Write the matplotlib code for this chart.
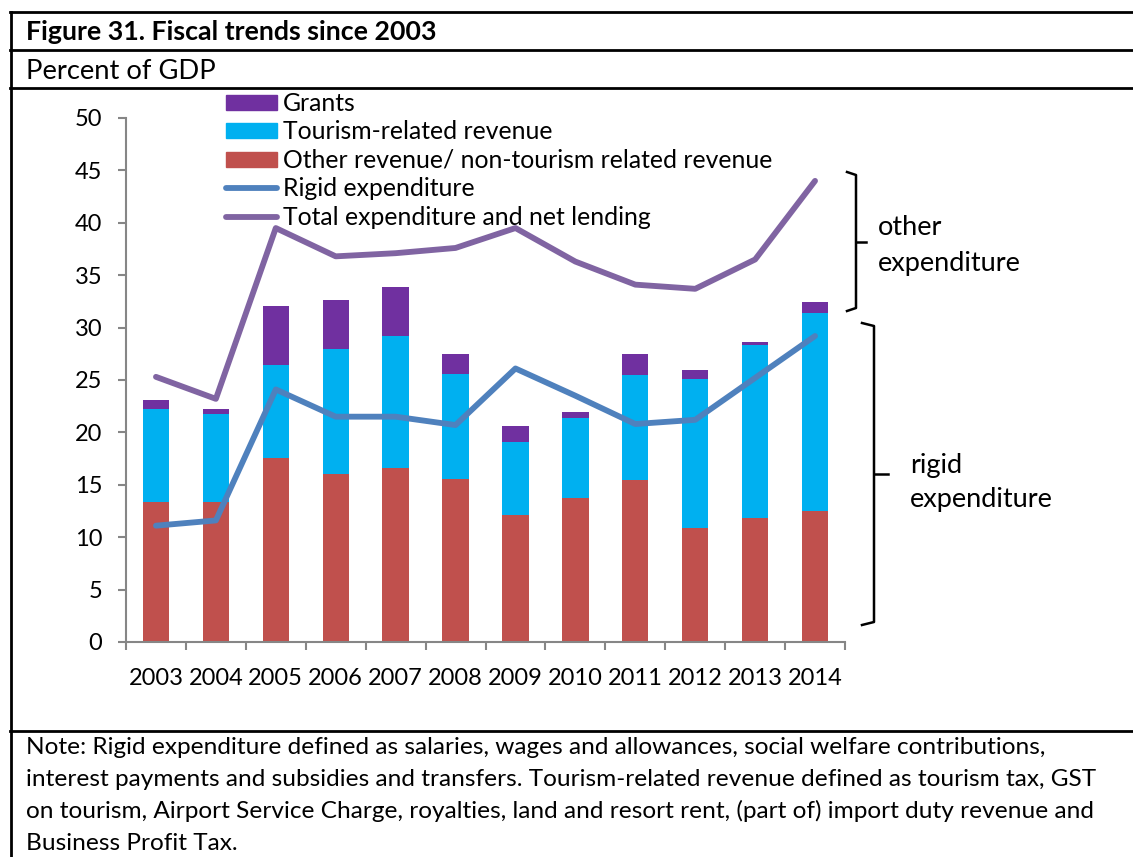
import numpy as np
import matplotlib
matplotlib.use("Agg")
import matplotlib.pyplot as plt
from matplotlib.patches import Patch
from matplotlib.lines import Line2D

plt.rcParams['font.family'] = ['Lato', 'DejaVu Sans']

years = ["2003", "2004", "2005", "2006", "2007", "2008",
         "2009", "2010", "2011", "2012", "2013", "2014"]

# stacked bar components (percent of GDP)
other_revenue = [13.4, 13.4, 17.6, 16.0, 16.6, 15.6, 12.1, 13.7, 15.5, 10.9, 11.8, 12.5]
tourism_revenue = [8.8, 8.4, 8.8, 12.0, 12.6, 10.0, 7.0, 7.7, 10.0, 14.2, 16.5, 18.9]
grants = [0.9, 0.4, 5.7, 4.6, 4.7, 1.9, 1.5, 0.5, 2.0, 0.9, 0.3, 1.0]

rigid_exp = [11.1, 11.6, 24.1, 21.5, 21.5, 20.7, 26.1, 23.5, 20.8, 21.2, 25.2, 29.2]
total_exp = [25.3, 23.2, 39.5, 36.8, 37.1, 37.6, 39.5, 36.3, 34.1, 33.7, 36.5, 44.0]

note_lines = [
    "Note: Rigid expenditure defined as salaries, wages and allowances, social welfare contributions,",
    "interest payments and subsidies and transfers. Tourism-related revenue defined as tourism tax, GST",
    "on tourism, Airport Service Charge, royalties, land and resort rent, (part of) import duty revenue and",
    "Business Profit Tax.",
]

c_grants = "#7030A0"
c_tourism = "#00B0F0"
c_other = "#C0504D"
c_rigid = "#4F81BD"
c_total = "#8064A2"

W, H = 1133, 857
fig = plt.figure(figsize=(W / 100, H / 100), dpi=100)

# main chart axes, placed in pixel terms
ax_l, ax_r, ax_t, ax_b = 126, 845, 118, 642
ax = fig.add_axes([ax_l / W, (H - ax_b) / H, (ax_r - ax_l) / W, (ax_b - ax_t) / H])

x = np.arange(len(years))
bw = 0.44
ax.bar(x, other_revenue, bw, color=c_other, zorder=2)
ax.bar(x, tourism_revenue, bw, bottom=other_revenue, color=c_tourism, zorder=2)
bottom2 = np.array(other_revenue) + np.array(tourism_revenue)
ax.bar(x, grants, bw, bottom=bottom2, color=c_grants, zorder=2)
ax.plot(x, rigid_exp, color=c_rigid, lw=4.2, solid_capstyle='round', zorder=3)
ax.plot(x, total_exp, color=c_total, lw=4.2, solid_capstyle='round', zorder=3)

ax.set_xlim(-0.5, len(years) - 0.5)
ax.set_ylim(0, 50)
ax.set_yticks(range(0, 51, 5))
ax.set_xticks(x)
ax.set_xticklabels(years)
ax.set_xticks(np.arange(-0.5, len(years), 1.0), minor=True)
ax.tick_params(axis='x', which='major', length=0, pad=19, labelsize=17)
ax.tick_params(axis='x', which='minor', length=6, width=1.5, color="#868686", direction='out')
ax.tick_params(axis='y', length=6, width=1.5, color="#868686", labelsize=17, pad=11)
for s in ['top', 'right']:
    ax.spines[s].set_visible(False)
for s in ['left', 'bottom']:
    ax.spines[s].set_color("#868686")
    ax.spines[s].set_linewidth(1.5)

handles = [
    Patch(color=c_grants, label="Grants"),
    Patch(color=c_tourism, label="Tourism-related revenue"),
    Patch(color=c_other, label="Other revenue/ non-tourism related revenue"),
    Line2D([], [], color=c_rigid, lw=4.2, solid_capstyle='round', label="Rigid expenditure"),
    Line2D([], [], color=c_total, lw=4.2, solid_capstyle='round', label="Total expenditure and net lending"),
]
fig.legend(handles=handles, loc='upper left', bbox_to_anchor=(226 / W, (H - 92) / H),
           frameon=False, fontsize=17.8, handlelength=2.07, handleheight=0.55,
           handletextpad=0.25, labelspacing=0.22, borderaxespad=0, borderpad=0)

# overlay in pixel coordinates for frame, title, note and braces
ov = fig.add_axes([0, 0, 1, 1], facecolor='none')
ov.set_xlim(0, W)
ov.set_ylim(H, 0)
ov.axis('off')

for y in [12, 50, 88, 731]:
    ov.plot([10, W], [y, y], color='black', lw=2)
ov.plot([11, 11], [12, H], color='black', lw=2)

ov.text(26, 32, "Figure 31. Fiscal trends since 2003", fontsize=19.3, fontweight='bold', va='center')
ov.text(26, 71, "Percent of GDP", fontsize=19.7, va='center')

for i, line in enumerate(note_lines):
    ov.text(26, 747 + i * 32, line, fontsize=17.6, va='center')


def brace(xv, y0, y1, hook, tick):
    ym = (y0 + y1) / 2
    ov.plot([xv - hook, xv, xv, xv - hook], [y0, y0 + 3, y1 - 3, y1], color='black', lw=1.8)
    ov.plot([xv, xv + tick], [ym, ym], color='black', lw=1.8)


brace(856, 172, 311, 9, 10)
brace(874, 323, 625, 12, 14)

ov.text(878, 227, "other", fontsize=19.5, va='center')
ov.text(878, 263, "expenditure", fontsize=19.5, va='center')
ov.text(910, 465, "rigid", fontsize=19.5, va='center')
ov.text(910, 500, "expenditure", fontsize=19.5, va='center')

fig.savefig("out.png", dpi=100)
